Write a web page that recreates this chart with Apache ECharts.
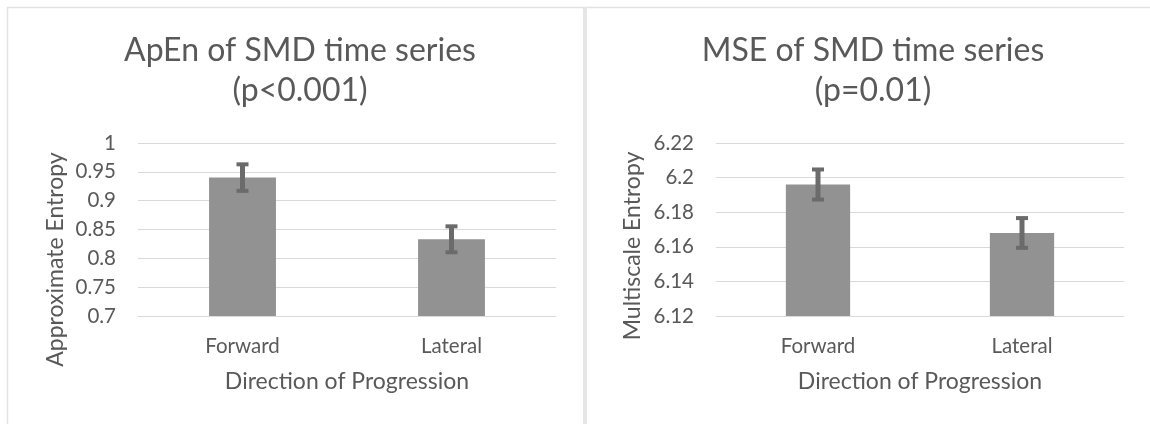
<!DOCTYPE html>
<html>
<head>
<meta charset="utf-8">
<script src="https://cdn.jsdelivr.net/npm/echarts@6/dist/echarts.min.js"></script>
<style>
  html, body { margin: 0; padding: 0; background: #ffffff; }
  #chart { width: 1150px; height: 424px; }
</style>
</head>
<body>
<div id="chart"></div>
<script>
// Categories shared by both panels
const directions = ['Forward', 'Lateral'];

// Approximate entropy: means and error half-widths
const apenMean = [0.940, 0.833];
const apenErr = [0.023, 0.0225];
const apenTicks = [0.7, 0.75, 0.8, 0.85, 0.9, 0.95, 1];

// Multiscale entropy: means and error half-widths
const mseMean = [6.196, 6.168];
const mseErr = [0.0087, 0.0086];
const mseTicks = [6.12, 6.14, 6.16, 6.18, 6.2, 6.22];

const TEXT = '#595959';
const GRIDLINE = '#d9d9d9';
const BAR = '#929292';
const WHISKER = '#6b6b6b';
const FONT = 'Lato, "Open Sans", sans-serif';
const LABEL_SIZE = 20.5;
const NAME_SIZE = 23;
const TITLE_SIZE = 32;

function errorRange(mean, err) {
  return mean.map((m, i) => [i, m - err[i], m + err[i]]);
}

function tickStep(ticks) {
  return Math.round((ticks[1] - ticks[0]) * 1e6) / 1e6;
}

// Whisker with caps, positioned through the axis scales
function renderWhisker(params, api) {
  const top = api.coord([api.value(0), api.value(2)]);
  const bottom = api.coord([api.value(0), api.value(1)]);
  const capHalf = 6;
  const stem = { stroke: WHISKER, lineWidth: 5, lineCap: 'butt' };
  const cap = { stroke: WHISKER, lineWidth: 4, lineCap: 'butt' };
  return {
    type: 'group',
    children: [
      { type: 'line', shape: { x1: top[0], y1: top[1], x2: bottom[0], y2: bottom[1] }, style: stem },
      { type: 'line', shape: { x1: top[0] - capHalf, y1: top[1], x2: top[0] + capHalf, y2: top[1] }, style: cap },
      { type: 'line', shape: { x1: bottom[0] - capHalf, y1: bottom[1], x2: bottom[0] + capHalf, y2: bottom[1] }, style: cap }
    ]
  };
}

function xAxisFor(gridIndex) {
  return {
    type: 'category',
    gridIndex: gridIndex,
    data: directions,
    axisTick: { show: false },
    axisLine: { lineStyle: { color: GRIDLINE, width: 1 } },
    axisLabel: { color: TEXT, fontSize: LABEL_SIZE, fontFamily: FONT, margin: 20 },
    name: 'Direction of Progression',
    nameLocation: 'middle',
    nameGap: 54,
    nameTextStyle: { color: TEXT, fontSize: NAME_SIZE, fontFamily: FONT }
  };
}

function yAxisFor(gridIndex, ticks) {
  return {
    type: 'value',
    gridIndex: gridIndex,
    min: ticks[0],
    max: ticks[ticks.length - 1],
    interval: tickStep(ticks),
    axisLine: { show: false },
    axisTick: { show: false },
    splitLine: { lineStyle: { color: GRIDLINE, width: 1 } },
    axisLabel: {
      color: TEXT, fontSize: LABEL_SIZE, fontFamily: FONT, margin: 22,
      formatter: v => String(+v.toFixed(2))
    }
  };
}

const chart = echarts.init(document.getElementById('chart'), null, { renderer: 'canvas' });

chart.setOption({
  backgroundColor: '#ffffff',
  animation: false,
  title: [
    {
      text: 'ApEn of SMD time series\n(p<0.001)',
      left: 295, top: 26, textAlign: 'center',
      textStyle: { color: TEXT, fontSize: TITLE_SIZE, fontWeight: 400, fontFamily: FONT, lineHeight: 40 }
    },
    {
      text: 'MSE of SMD time series\n(p=0.01)',
      left: 868, top: 26, textAlign: 'center',
      textStyle: { color: TEXT, fontSize: TITLE_SIZE, fontWeight: 400, fontFamily: FONT, lineHeight: 40 }
    }
  ],
  grid: [
    { left: 138, right: 594, top: 143, bottom: 108 },
    { left: 716, right: 26, top: 143, bottom: 108 }
  ],
  xAxis: [xAxisFor(0), xAxisFor(1)],
  yAxis: [yAxisFor(0, apenTicks), yAxisFor(1, mseTicks)],
  series: [
    {
      type: 'bar', xAxisIndex: 0, yAxisIndex: 0,
      data: apenMean, barWidth: '32%',
      itemStyle: { color: BAR }
    },
    {
      type: 'custom', xAxisIndex: 0, yAxisIndex: 0,
      data: errorRange(apenMean, apenErr),
      renderItem: renderWhisker, z: 5
    },
    {
      type: 'bar', xAxisIndex: 1, yAxisIndex: 1,
      data: mseMean, barWidth: '31.5%',
      itemStyle: { color: BAR }
    },
    {
      type: 'custom', xAxisIndex: 1, yAxisIndex: 1,
      data: errorRange(mseMean, mseErr),
      renderItem: renderWhisker, z: 5
    }
  ],
  graphic: [
    // panel frames
    { type: 'line', shape: { x1: 7, y1: 7.5, x2: 1150, y2: 7.5 }, style: { stroke: '#e2e2e2', lineWidth: 1.5 } },
    { type: 'line', shape: { x1: 7.5, y1: 7, x2: 7.5, y2: 424 }, style: { stroke: '#e2e2e2', lineWidth: 1.5 } },
    { type: 'rect', shape: { x: 583, y: 7, width: 4, height: 417 }, style: { fill: '#e6e6e6' } },
    // vertical axis titles
    {
      type: 'text', x: 56, y: 259.5, rotation: Math.PI / 2,
      style: { text: 'Approximate Entropy', fill: TEXT, font: NAME_SIZE + 'px ' + FONT, align: 'center', verticalAlign: 'middle' }
    },
    {
      type: 'text', x: 633, y: 246, rotation: Math.PI / 2,
      style: { text: 'Multiscale Entropy', fill: TEXT, font: NAME_SIZE + 'px ' + FONT, align: 'center', verticalAlign: 'middle' }
    }
  ]
});
</script>
</body>
</html>
